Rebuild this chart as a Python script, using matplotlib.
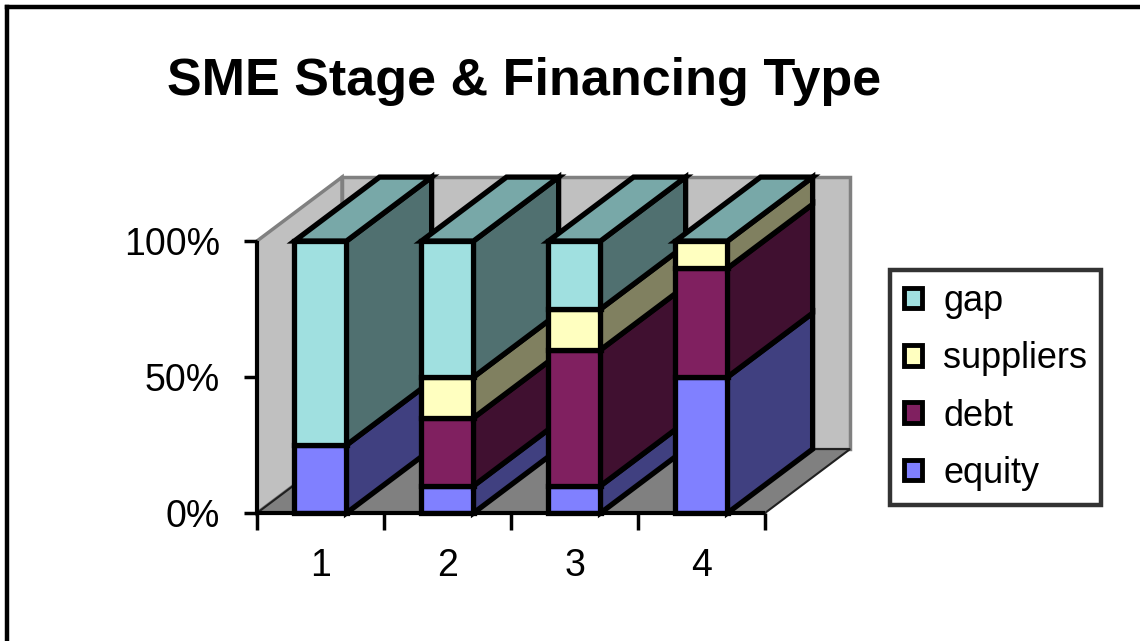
import matplotlib
matplotlib.use("Agg")
import matplotlib.pyplot as plt
from matplotlib.patches import Polygon, Rectangle
from matplotlib.lines import Line2D
import numpy as np

plt.rcParams['font.family'] = ['Liberation Sans', 'DejaVu Sans']

# ---- data ----
categories = ["1", "2", "3", "4"]
series_names = ["equity", "debt", "suppliers", "gap"]
equity = [25, 10, 10, 50]
debt = [0, 25, 50, 40]
suppliers = [0, 15, 15, 10]
gap = [75, 50, 25, 0]
y_ticks = [0, 50, 100]
y_ticklabels = ["0%", "50%", "100%"]
title = "SME Stage & Financing Type"

# ---- styles ----
front_colors = {"equity": "#8080ff", "debt": "#802060", "suppliers": "#ffffc0", "gap": "#a0e0e0"}
side_colors = {"equity": "#404080", "debt": "#401030", "suppliers": "#808060", "gap": "#507070"}
top_colors = {"equity": "#6060c0", "debt": "#601848", "suppliers": "#c0c090", "gap": "#78a8a8"}

W, H = 1140, 641
fig = plt.figure(figsize=(W / 100, H / 100), dpi=100)
fig.patch.set_facecolor("white")

ax = fig.add_axes([257 / W, 1 - 513 / H, 508 / W, 272 / H])
ax.set_xlim(0.5, 4.5)
ax.set_ylim(0, 100)
ax.set_facecolor("none")
for s in ax.spines.values():
    s.set_visible(False)

dx = 0.67      # depth offset in category units
dy = 23.5      # depth offset in percent units
bw = 0.41      # bar front width
x0, x1 = 0.5, 4.5
lw = 3.8

# walls & floor
ax.add_patch(Polygon([(x0, 0), (x0 + dx, dy), (x0 + dx, 100 + dy), (x0, 100)],
                     closed=True, facecolor="#c0c0c0", edgecolor="#808080", lw=2.5, clip_on=False, zorder=1))
ax.add_patch(Rectangle((x0 + dx, dy), x1 - x0, 100, facecolor="#c0c0c0", edgecolor="#808080",
                       lw=2.5, clip_on=False, zorder=1))
ax.add_patch(Polygon([(x0, 0), (x1, 0), (x1 + dx, dy), (x0 + dx, dy)], closed=True,
                     facecolor="#808080", edgecolor="#202020", lw=1.5, clip_on=False, zorder=1.5))

data = {"equity": equity, "debt": debt, "suppliers": suppliers, "gap": gap}
xs = np.arange(1, len(categories) + 1)
z = 3
for i, xc in enumerate(xs):
    xl, xr = xc - bw / 2, xc + bw / 2
    base = 0
    for name in series_names:
        v = data[name][i]
        if v <= 0:
            continue
        top = base + v
        ax.add_patch(Rectangle((xl, base), bw, v, facecolor=front_colors[name], edgecolor="black",
                               lw=lw, clip_on=False, zorder=z, joinstyle="miter"))
        ax.add_patch(Polygon([(xr, base), (xr + dx, base + dy), (xr + dx, top + dy), (xr, top)],
                             closed=True, facecolor=side_colors[name], edgecolor="black", lw=lw,
                             clip_on=False, zorder=z, joinstyle="miter"))
        base = top
        z += 0.01
    ax.add_patch(Polygon([(xl, base), (xr, base), (xr + dx, base + dy), (xl + dx, base + dy)],
                         closed=True, facecolor=top_colors["gap"], edgecolor="black", lw=lw,
                         clip_on=False, zorder=z, joinstyle="miter"))
    z += 0.1

# axis lines
ax.plot([x0, x0], [0, 100], color="black", lw=3, clip_on=False, zorder=10, solid_capstyle="butt")
ax.plot([x0, x1], [0, 0], color="black", lw=3, clip_on=False, zorder=10, solid_capstyle="butt")

ax.set_yticks(y_ticks)
ax.set_yticklabels(y_ticklabels)
ax.tick_params(axis="y", direction="out", length=9.5, width=2.5, pad=17, labelsize=27)
ax.set_xticks(xs)
ax.set_xticklabels(categories)
ax.set_xticks(np.arange(0.5, len(categories) + 1, 1.0), minor=True)
ax.tick_params(axis="x", which="major", length=0, pad=25, labelsize=27)
ax.tick_params(axis="x", which="minor", direction="out", length=12, width=2.5)

# title
fig.text(524 / W, 1 - 82 / H, title, ha="center", va="center", fontsize=37.5, fontweight="bold")

# legend
handles = [Rectangle((0, 0), 1, 1, facecolor=front_colors[n], edgecolor="black", lw=3.5)
           for n in ["gap", "suppliers", "debt", "equity"]]
leg = fig.legend(handles, ["gap", "suppliers", "debt", "equity"], loc="upper left",
                 bbox_to_anchor=(890 / W, 1 - 270 / H), fontsize=26, frameon=True, fancybox=False,
                 handlelength=0.5, handleheight=0.5, handletextpad=0.6, labelspacing=0.62,
                 borderpad=0.38, borderaxespad=0)
leg.get_frame().set_edgecolor("black")
leg.get_frame().set_linewidth(3.2)

# figure border (top and left)
fig.add_artist(Line2D([7 / W, 7 / W], [0, 1 - 7 / H], color="black", lw=3.2, transform=fig.transFigure))
fig.add_artist(Line2D([7 / W, 1], [1 - 7 / H, 1 - 7 / H], color="black", lw=3.2, transform=fig.transFigure))

fig.savefig("out.png", dpi=100)
